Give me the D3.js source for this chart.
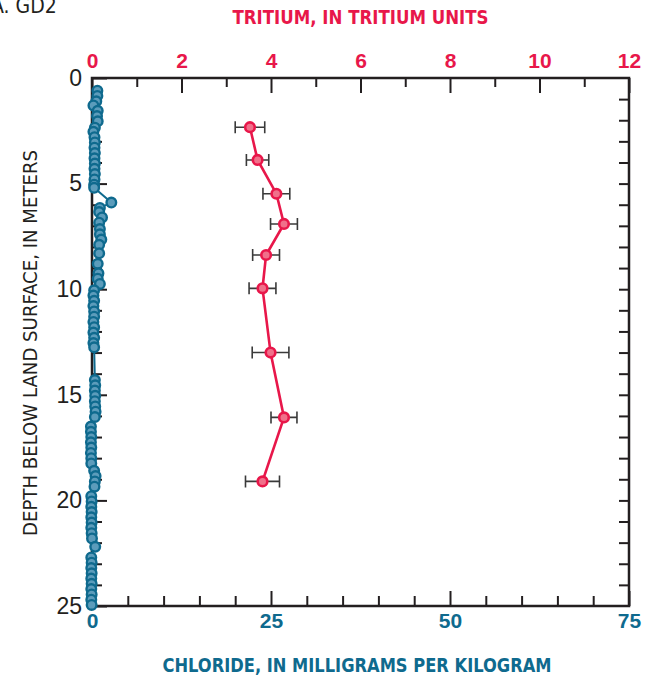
<!DOCTYPE html>
<html><head><meta charset="utf-8">
<script src="https://cdn.jsdelivr.net/npm/d3@7"></script>
<style>
body{margin:0;background:#fff;}
svg{display:block;font-family:"DejaVu Sans Condensed","Liberation Sans Narrow",Roboto,sans-serif;}
</style></head>
<body>
<svg id="c" width="651" height="679"></svg>
<script>
// Tritium (tritium units) by depth (m)
const tritiumDepth = [2.33, 3.88, 5.48, 6.91, 8.38, 9.96, 13.0, 16.07, 19.1];
const tritiumValue = [3.53, 3.70, 4.12, 4.29, 3.89, 3.81, 3.99, 4.29, 3.81];
const tritiumError = [0.33, 0.25, 0.30, 0.30, 0.30, 0.30, 0.41, 0.29, 0.38];

// Chloride (mg/kg) by depth (m)
const chlorideDepth = [0.6,0.85,1.1,1.3,1.55,1.8,2.05,2.35,2.55,2.8,3.05,3.3,3.55,3.8,4.05,4.3,4.55,4.8,5.05,5.2,
  5.9,6.15,6.35,6.6,6.85,7.15,7.4,7.65,7.9,8.3,8.8,9.25,9.5,9.75,
  10.05,10.3,10.55,10.8,11.05,11.3,11.55,11.8,12.05,12.3,12.55,12.75,
  14.3,14.55,14.8,15.05,15.3,15.55,15.8,16.05,
  16.5,16.75,17.0,17.25,17.5,17.75,18.0,18.25,18.6,18.85,19.1,19.35,
  19.8,20.05,20.3,20.55,20.8,21.05,21.3,21.55,21.8,22.2,
  22.7,22.95,23.2,23.45,23.7,23.95,24.2,24.45,24.7,24.95];
const chlorideValue = [0.75,0.75,0.6,0.2,0.8,0.7,0.8,0.4,0.2,0.35,0.4,0.35,0.4,0.35,0.4,0.35,0.4,0.35,0.3,0.3,
  2.7,1.1,1.0,1.4,1.0,1.1,1.1,1.3,1.0,1.0,0.8,0.9,0.8,1.1,
  0.3,0.2,0.3,0.2,0.3,0.3,0.2,0.3,0.2,0.3,0.2,0.3,
  0.4,0.45,0.4,0.45,0.4,0.45,0.5,0.4,
  -0.15,-0.15,-0.1,-0.15,-0.1,-0.15,-0.1,-0.1,0.3,0.5,0.4,0.35,
  -0.1,-0.05,-0.1,-0.05,-0.1,-0.05,-0.1,-0.05,0.0,0.45,
  -0.1,-0.05,-0.1,-0.05,-0.1,-0.05,-0.1,-0.05,-0.1,-0.05];

const tritiumTicks = [0,2,4,6,8,10,12];
const chlorideTicks = [0,25,50,75];
const depthTicks = [0,5,10,15,20,25];

const RED = "#e8174a", BLUE = "#0f6a8e", INK = "#231f20";
const L = 92, R = 629, T = 78, B = 606;

const svg = d3.select("#c");
const y = d3.scaleLinear().domain([0,25]).range([T,B]);
const xT = d3.scaleLinear().domain([0,12]).range([L,R]);
const xC = d3.scaleLinear().domain([0,75]).range([L,R]);

function styleAxis(g, color, size, weight){
  g.select(".domain").remove();
  g.selectAll(".tick line").attr("stroke", INK).attr("stroke-width", 2);
  g.selectAll(".tick text").attr("fill", color).attr("font-size", size).attr("font-weight", weight).attr("font-family", null);
}

// top axis (tritium)
svg.append("g").attr("transform",`translate(0,${T})`)
  .call(d3.axisTop(xT).tickValues(d3.range(0,13,1).filter(v=>v%2)).tickSize(-9).tickFormat(""))
  .call(g=>styleAxis(g,RED,18,"bold"));
svg.append("g").attr("transform",`translate(0,${T})`)
  .call(d3.axisTop(xT).tickValues(tritiumTicks).tickSizeInner(-15).tickSizeOuter(0).tickPadding(10).tickFormat(d3.format("d")))
  .call(g=>styleAxis(g,RED,21,"bold"));

// bottom axis (chloride)
svg.append("g").attr("transform",`translate(0,${B})`)
  .call(d3.axisBottom(xC).tickValues(d3.range(0,76,5).filter(v=>v%25)).tickSize(-10).tickFormat(""))
  .call(g=>styleAxis(g,BLUE,18,"bold"));
svg.append("g").attr("transform",`translate(0,${B})`)
  .call(d3.axisBottom(xC).tickValues(chlorideTicks).tickSizeInner(-15).tickSizeOuter(0).tickPadding(7).tickFormat(d3.format("d")))
  .call(g=>styleAxis(g,BLUE,21,"bold"));

// left axis (depth)
svg.append("g").attr("transform",`translate(${L},0)`)
  .call(d3.axisLeft(y).tickValues(d3.range(0,26,1).filter(v=>v%5)).tickSize(-10).tickFormat(""))
  .call(g=>styleAxis(g,INK,20,"normal"));
svg.append("g").attr("transform",`translate(${L},0)`)
  .call(d3.axisLeft(y).tickValues(depthTicks).tickSizeInner(-15).tickSizeOuter(0).tickPadding(10).tickFormat(d3.format("d")))
  .call(g=>styleAxis(g,INK,23,"normal"));

// right axis ticks
svg.append("g").attr("transform",`translate(${R},0)`)
  .call(d3.axisRight(y).tickValues(d3.range(1,25,1)).tickSize(-10).tickFormat(""))
  .call(g=>styleAxis(g,INK,20,"normal"));

// frame
svg.append("path").attr("d",`M${L},${T}H${R}V${B}H${L}Z`).attr("fill","none").attr("stroke",INK).attr("stroke-width",2.5);

// chloride line + points
const cData = chlorideDepth.map((d,i)=>({d, v:chlorideValue[i]}));
svg.append("path").datum(cData)
  .attr("d", d3.line().x(p=>xC(p.v)).y(p=>y(p.d)))
  .attr("fill","none").attr("stroke",BLUE).attr("stroke-width",2);
svg.append("g").selectAll("circle").data(cData).join("circle")
  .attr("cx",p=>xC(p.v)).attr("cy",p=>y(p.d)).attr("r",4.8)
  .attr("fill","#5c9cbb").attr("stroke",BLUE).attr("stroke-width",2.4);

// tritium error bars, line, points
const tData = tritiumDepth.map((d,i)=>({d, v:tritiumValue[i], e:tritiumError[i]}));
const eb = svg.append("g").attr("stroke","#3a3a3a").attr("stroke-width",1.6).attr("fill","none");
eb.selectAll("path").data(tData).join("path")
  .attr("d",p=>{const a=xT(p.v-p.e), b=xT(p.v+p.e), yy=y(p.d);
    return `M${a},${yy}H${b}M${a},${yy-6}V${yy+6}M${b},${yy-6}V${yy+6}`;});
svg.append("path").datum(tData)
  .attr("d", d3.line().x(p=>xT(p.v)).y(p=>y(p.d)))
  .attr("fill","none").attr("stroke",RED).attr("stroke-width",2.6);
svg.append("g").selectAll("circle").data(tData).join("circle")
  .attr("cx",p=>xT(p.v)).attr("cy",p=>y(p.d)).attr("r",4.8)
  .attr("fill","#f0708a").attr("stroke",RED).attr("stroke-width",2.6);

// titles
svg.append("text").attr("x",-9).attr("y",13).attr("font-size",21).attr("fill",INK).text("A. GD2");
svg.append("text").attr("x",(L+R)/2).attr("y",24).attr("text-anchor","middle")
  .attr("font-size",19).attr("font-weight","bold").attr("fill",RED)
  .attr("textLength",256).attr("lengthAdjust","spacingAndGlyphs").text("TRITIUM, IN TRITIUM UNITS");
svg.append("text").attr("x",357).attr("y",672).attr("text-anchor","middle")
  .attr("font-size",19).attr("font-weight","bold").attr("fill",BLUE)
  .attr("textLength",389).attr("lengthAdjust","spacingAndGlyphs").text("CHLORIDE, IN MILLIGRAMS PER KILOGRAM");
svg.append("text").attr("transform","translate(37,343) rotate(-90)").attr("text-anchor","middle")
  .attr("font-size",20).attr("fill",INK)
  .attr("textLength",386).attr("lengthAdjust","spacingAndGlyphs").text("DEPTH BELOW LAND SURFACE, IN METERS");
</script>
</body></html>
